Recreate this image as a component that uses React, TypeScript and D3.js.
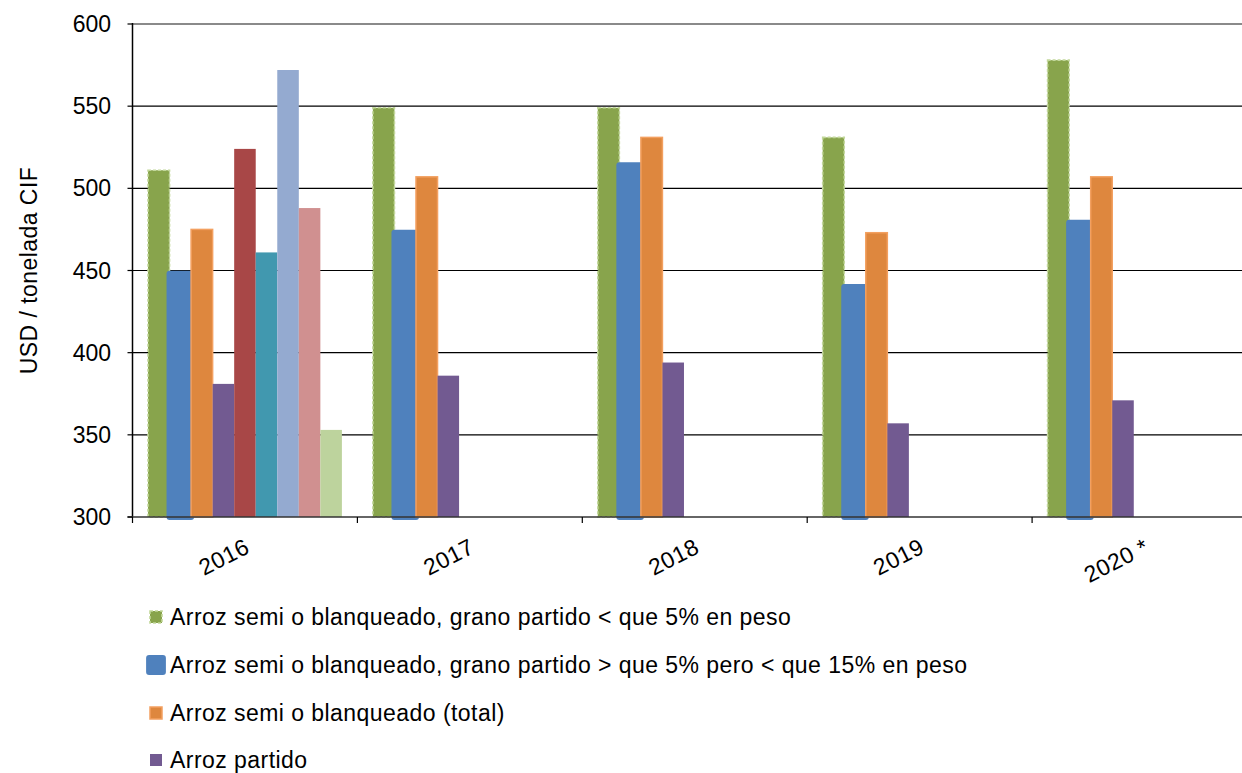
import React from "react";
import * as d3 from "d3";

const years = ["2016", "2017", "2018", "2019", "2020 *"];
const yTicks = [300, 350, 400, 450, 500, 550, 600];

const seriesNames = [
  "Arroz semi o blanqueado, grano partido < que 5% en peso",
  "Arroz semi o blanqueado, grano partido > que 5% pero < que 15% en peso",
  "Arroz semi o blanqueado (total)",
  "Arroz partido",
  "Serie 5",
  "Serie 6",
  "Serie 7",
  "Serie 8",
  "Serie 9",
];

const sGreen = [511, 549, 549, 531, 578];
const sBlue = [448, 473, 514, 440, 479];
const sOrange = [475, 507, 531, 473, 507];
const sPurple = [381, 386, 394, 357, 371];
const sRed = [524, null, null, null, null];
const sTeal = [461, null, null, null, null];
const sLightBlue = [572, null, null, null, null];
const sPink = [488, null, null, null, null];
const sLightGreen = [353, null, null, null, null];

const seriesValues = [sGreen, sBlue, sOrange, sPurple, sRed, sTeal, sLightBlue, sPink, sLightGreen];

const fills = ["#88A44C", "#4F81BD", "#DE873E", "#725A91", "#A84747", "#4198AF", "#94AAD0", "#D09090", "#BDD39D"];
const styles = [
  { stroke: "#C2D89A", sw: 1.6, dash: "3,2", grow: 0, rx: 0 },
  { stroke: "#4F81BD", sw: 0, dash: null, grow: 3, rx: 3 },
  { stroke: "#F3A060", sw: 1.5, dash: null, grow: 0, rx: 0 },
  { stroke: null, sw: 0, dash: null, grow: 0, rx: 0 },
  { stroke: null, sw: 0, dash: null, grow: 0, rx: 0 },
  { stroke: null, sw: 0, dash: null, grow: 0, rx: 0 },
  { stroke: null, sw: 0, dash: null, grow: 0, rx: 0 },
  { stroke: null, sw: 0, dash: null, grow: 0, rx: 0 },
  { stroke: null, sw: 0, dash: null, grow: 0, rx: 0 },
];

const W = 1242;
const H = 773;
const left = 132.5;
const right = 1257;
const top = 24;
const bottom = 517;
const font = "'Liberation Sans', Arial, sans-serif";

export default function App() {
  const x0 = d3.scaleBand<string>().domain(years).range([left, right]).padding(0);
  const gw = x0.bandwidth();
  const x1 = d3
    .scaleBand<number>()
    .domain(d3.range(seriesNames.length))
    .range([15.5, gw - 15.5])
    .padding(0);
  const y = d3.scaleLinear().domain([300, 600]).range([bottom, top]);

  const legendCount = 4;
  const legendYs = [617, 665, 713, 760];

  return (
    <div style={{ position: "absolute", left: 0, top: 0 }}>
      <svg width={W} height={H} style={{ display: "block", background: "#fff" }}>
        {yTicks.slice(1).map((t) => (
          <line
            key={t}
            x1={left}
            x2={right}
            y1={y(t)}
            y2={y(t)}
            stroke={t === 600 ? "#8a8a8a" : "#000"}
            strokeWidth={t === 600 ? 2 : 1.2}
          />
        ))}
        {seriesValues.map((vals, si) => (
          <g key={si}>
            {vals.map((v, i) => {
              if (v == null) return null;
              const st = styles[si];
              const bx = (x0(years[i]) as number) + (x1(si) as number);
              const bw = x1.bandwidth();
              const by = y(v);
              const bh = y(300) - by;
              return (
                <rect
                  key={i}
                  x={bx - st.grow}
                  y={by - st.grow}
                  width={bw + 2 * st.grow}
                  height={bh + 2 * st.grow}
                  rx={st.rx}
                  fill={fills[si]}
                  stroke={st.stroke || "none"}
                  strokeWidth={st.sw}
                  strokeDasharray={st.dash || undefined}
                />
              );
            })}
          </g>
        ))}
        <line x1={left} x2={left} y1={top - 1} y2={bottom} stroke="#000" strokeWidth={1.5} />
        <line x1={left - 5} x2={right} y1={bottom} y2={bottom} stroke="#333" strokeWidth={1.5} />
        {yTicks.map((t) => (
          <g key={t}>
            <line x1={left - 5} x2={left} y1={y(t)} y2={y(t)} stroke="#000" strokeWidth={1.2} />
            <text
              x={111}
              y={y(t)}
              dy="0.35em"
              textAnchor="end"
              fontFamily={font}
              fontSize={23}
              fill="#000"
            >
              {t}
            </text>
          </g>
        ))}
        {years.map((yr, i) => {
          const gx = x0(yr) as number;
          return (
            <g key={yr}>
              <line x1={gx} x2={gx} y1={bottom} y2={bottom + 6} stroke="#000" strokeWidth={1.2} />
              <text
                transform={`translate(${gx + gw / 2 + 6},${bottom + 35}) rotate(-27)`}
                textAnchor="end"
                fontFamily={font}
                fontSize={23}
                letterSpacing={0.4}
                fill="#000"
              >
                {yr}
              </text>
            </g>
          );
        })}
        <text
          transform={`translate(37,${(top + bottom) / 2}) rotate(-90)`}
          textAnchor="middle"
          fontFamily={font}
          fontSize={23}
          letterSpacing={0.45}
          fill="#000"
        >
          USD / tonelada CIF
        </text>
        {seriesNames.slice(0, legendCount).map((n, i) => {
          const cy = legendYs[i];
          const st = styles[i];
          const s = 12;
          return (
            <g key={n}>
              <rect
                x={150 - st.grow * 1.3}
                y={cy - s / 2 - st.grow * 1.3}
                width={s + 2.6 * st.grow}
                height={s + 2.6 * st.grow}
                rx={st.rx}
                fill={fills[i]}
                stroke={st.stroke || "none"}
                strokeWidth={st.sw}
                strokeDasharray={st.dash || undefined}
              />
              <text
                x={170}
                y={cy}
                dy="0.35em"
                fontFamily={font}
                fontSize={23}
                letterSpacing={0.45}
                fill="#000"
              >
                {n}
              </text>
            </g>
          );
        })}
      </svg>
    </div>
  );
}
